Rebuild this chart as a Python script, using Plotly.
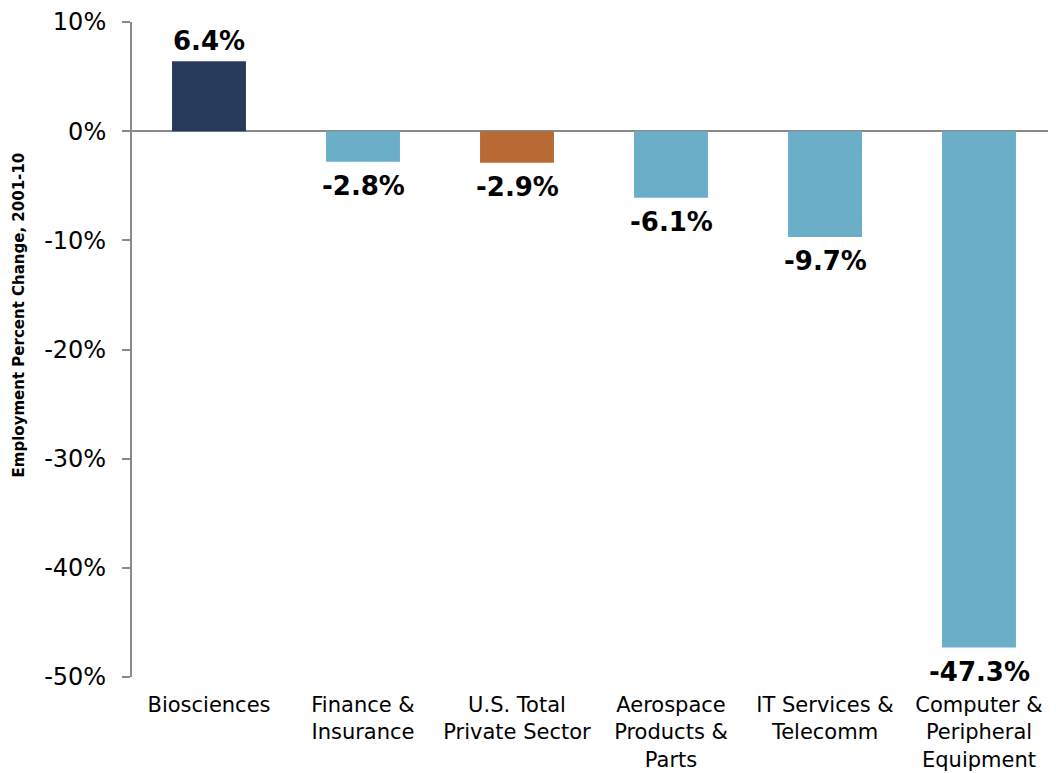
import plotly.graph_objects as go

categories = ["Biosciences", "Finance &<br>Insurance", "U.S. Total<br>Private Sector",
              "Aerospace<br>Products &<br>Parts", "IT Services &<br>Telecomm",
              "Computer &<br>Peripheral<br>Equipment"]
values = [6.4, -2.8, -2.9, -6.1, -9.7, -47.3]
labels = ["6.4%", "-2.8%", "-2.9%", "-6.1%", "-9.7%", "-47.3%"]
colors = ["#283a5a", "#6aafc7", "#b86a35", "#6aafc7", "#6aafc7", "#6aafc7"]
tick_vals = [10, 0, -10, -20, -30, -40, -50]
tick_text = ["10%", "0%", "-10%", "-20%", "-30%", "-40%", "-50%"]

FONT = "DejaVu Sans, Verdana, sans-serif"

fig = go.Figure()
fig.add_trace(go.Bar(x=categories, y=values, marker=dict(color=colors, line=dict(width=0)),
                     width=0.48, showlegend=False))

for c, v, t in zip(categories, values, labels):
    fig.add_annotation(x=c, y=v, text="<b>" + t + "</b>", showarrow=False,
                       yanchor="bottom" if v > 0 else "top",
                       yshift=3 if v > 0 else -7,
                       font=dict(family=FONT, size=26, color="#000000"))

fig.add_annotation(xref="paper", yref="paper", x=-0.122, y=0.5525, xanchor="center", yanchor="middle",
                   text="<b>Employment Percent Change, 2001-10</b>", textangle=-90, showarrow=False,
                   font=dict(family=FONT, size=15, color="#000000"))

fig.update_layout(
    width=1048, height=765,
    margin=dict(l=124, r=0, t=12, b=96),
    plot_bgcolor="white", paper_bgcolor="white",
    font=dict(family=FONT, color="#000000"),
)
fig.update_xaxes(showgrid=False, showline=False, zeroline=False, ticks="",
                 tickfont=dict(family=FONT, size=21, color="#000000"),
                 ticklabelstandoff=13)
fig.update_yaxes(range=[-50, 10], tickvals=tick_vals, ticktext=tick_text,
                 showgrid=False, showline=True, linecolor="#898989", linewidth=2,
                 zeroline=True, zerolinecolor="#898989", zerolinewidth=2,
                 ticks="outside", ticklen=8, tickcolor="#898989", tickwidth=1.5,
                 tickfont=dict(family=FONT, size=24, color="#000000"),
                 ticklabelstandoff=11, ticklabeloverflow="allow")

fig.write_html("out.html")
